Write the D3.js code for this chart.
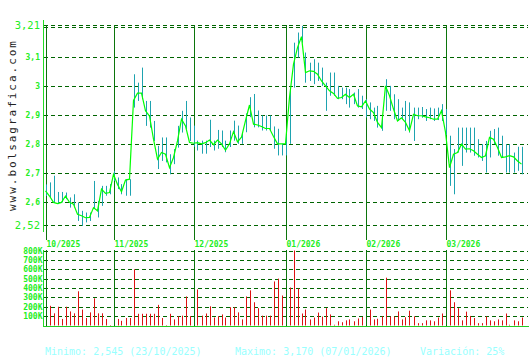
<!DOCTYPE html>
<html>
<head>
<meta charset="utf-8">
<script src="https://cdn.jsdelivr.net/npm/d3@7/dist/d3.min.js"></script>
<style>
  body { margin: 0; background: #fff; }
  svg { display: block; font-family: "DejaVu Sans Mono", monospace; }
</style>
</head>
<body>
<svg id="chart" width="530" height="360"></svg>
<script>
// month markers (index of first session shown in that month)
const monthLabels = ["10/2025", "11/2025", "12/2025", "01/2026", "02/2026", "03/2026"];
const monthStarts = [0, 17, 37, 60, 80, 100];

// daily close
const closes = [
  2.638, 2.62, 2.598, 2.594, 2.598, 2.62, 2.598, 2.592, 2.557, 2.552,
  2.545, 2.546, 2.58, 2.569, 2.644, 2.629, 2.632, 2.695, 2.66, 2.635,
  2.675, 2.678, 2.95, 2.975, 2.975, 2.914, 2.896, 2.816, 2.747, 2.77,
  2.764, 2.718, 2.753, 2.81, 2.885, 2.862, 2.805, 2.802, 2.804, 2.8,
  2.804, 2.813, 2.797, 2.813, 2.8, 2.778, 2.8, 2.842, 2.807, 2.823,
  2.88, 2.934, 2.868, 2.865, 2.86, 2.853, 2.853, 2.825, 2.8, 2.8,
  2.8, 2.96, 3.075, 3.132, 3.17, 3.046, 3.052, 3.05, 3.04, 3.017,
  3.0, 2.983, 2.974, 2.957, 2.96, 2.971, 2.96, 2.971, 2.931, 2.928,
  2.948, 2.92, 2.908, 2.874, 2.856, 3.0, 2.966, 2.92, 2.879, 2.89,
  2.874, 2.845, 2.902, 2.897, 2.897, 2.893, 2.89, 2.885, 2.885, 2.914,
  2.84, 2.718, 2.764, 2.77, 2.799, 2.782, 2.783, 2.776, 2.764, 2.753,
  2.759, 2.822, 2.816, 2.787, 2.753, 2.755, 2.759, 2.755, 2.741, 2.73
];

// daily high / low
const highs = [
  2.66, 2.667, 2.69, 2.634, 2.634, 2.632, 2.615, 2.626, 2.598, 2.569,
  2.563, 2.563, 2.672, 2.603, 2.655, 2.655, 2.661, 2.707, 2.684, 2.661,
  2.678, 2.678, 3.04, 3.011, 3.063, 2.948, 2.948, 2.879, 2.793, 2.822,
  2.822, 2.764, 2.782, 2.862, 2.914, 2.948, 2.891, 2.863, 2.811, 2.811,
  2.811, 2.883, 2.811, 2.848, 2.846, 2.811, 2.846, 2.88, 2.863, 2.834,
  2.905, 2.961, 2.972, 2.915, 2.898, 2.898, 2.898, 2.86, 2.852, 2.8,
  2.83, 2.99, 3.149, 3.184, 3.207, 3.115, 3.08, 3.092, 3.08, 3.063,
  3.011, 3.046, 3.046, 3.0, 2.994, 2.994, 2.989, 2.977, 2.989, 2.966,
  2.954, 2.943, 2.925, 2.931, 2.891, 3.023, 3.0, 2.971, 2.954, 2.925,
  2.948, 2.943, 2.925, 2.925, 2.927, 2.92, 2.925, 2.922, 2.925, 2.937,
  2.92, 2.828, 2.782, 2.856, 2.856, 2.856, 2.856, 2.856, 2.816, 2.799,
  2.81, 2.845, 2.851, 2.856, 2.828, 2.799, 2.799, 2.77, 2.79, 2.79
];
const lows = [
  2.62, 2.615, 2.598, 2.592, 2.598, 2.609, 2.58, 2.58, 2.534, 2.517,
  2.529, 2.534, 2.575, 2.546, 2.586, 2.621, 2.626, 2.672, 2.644, 2.626,
  2.621, 2.621, 2.925, 2.948, 2.954, 2.862, 2.856, 2.81, 2.713, 2.741,
  2.736, 2.695, 2.73, 2.787, 2.839, 2.851, 2.81, 2.79, 2.777, 2.766,
  2.766, 2.789, 2.777, 2.783, 2.789, 2.771, 2.789, 2.811, 2.8, 2.8,
  2.84, 2.892, 2.857, 2.857, 2.846, 2.846, 2.846, 2.783, 2.76, 2.76,
  2.76, 2.8, 2.994, 3.098, 3.149, 3.011, 3.017, 3.006, 3.017, 3.0,
  2.914, 2.966, 2.966, 2.954, 2.954, 2.937, 2.925, 2.937, 2.925, 2.92,
  2.891, 2.885, 2.879, 2.856, 2.845, 2.914, 2.914, 2.885, 2.879, 2.885,
  2.845, 2.839, 2.81, 2.885, 2.89, 2.879, 2.885, 2.879, 2.882, 2.879,
  2.83, 2.655, 2.626, 2.77, 2.724, 2.77, 2.77, 2.759, 2.753, 2.741,
  2.701, 2.753, 2.799, 2.759, 2.753, 2.701, 2.701, 2.701, 2.707, 2.695
];

// daily volume
const volumes = [
  115000, 210000, 130000, 200000, 70000, 200000, 150000, 130000, 365000, 170000,
  80000, 140000, 290000, 130000, 130000, 70000, 5000, 90000, 70000, 50000,
  80000, 80000, 600000, 125000, 125000, 125000, 125000, 125000, 220000, 80000,
  5000, 125000, 65000, 100000, 105000, 310000, 100000, 100000, 385000, 105000,
  128000, 205000, 85000, 100000, 118000, 85000, 195000, 195000, 140000, 65000,
  310000, 375000, 248000, 185000, 105000, 105000, 105000, 470000, 500000, 320000,
  320000, 405000, 800000, 395000, 128000, 170000, 65000, 85000, 138000, 95000,
  185000, 118000, 8000, 45000, 35000, 55000, 65000, 45000, 75000, 90000,
  100000, 170000, 65000, 72000, 98000, 510000, 96000, 96000, 150000, 65000,
  88000, 158000, 98000, 25000, 25000, 55000, 55000, 45000, 85000, 128000,
  110000, 375000, 248000, 185000, 55000, 148000, 102000, 80000, 25000, 25000,
  98000, 55000, 45000, 65000, 55000, 128000, 8000, 55000, 45000, 85000
];

// axis ticks
const priceTicks = [3.21, 3.1, 3.0, 2.9, 2.8, 2.7, 2.6, 2.52];
const priceTickLabels = ["3,21", "3,1", "3", "2,9", "2,8", "2,7", "2,6", "2,52"];
const volTicks = [800000, 700000, 600000, 500000, 400000, 300000, 200000, 100000];
const volTickLabels = ["800K", "700K", "600K", "500K", "400K", "300K", "200K", "100K"];

const footer = ["Minimo: 2,545 (23/10/2025)", "Maximo: 3,170 (07/01/2026)", "Variación: 25%"];

const svg = d3.select("#chart");
const crisp = v => Math.round(v) + 0.5;

const x = d3.scaleLinear().domain([0, closes.length - 1]).range([45.5, 45.5 + 4 * (closes.length - 1)]);
const yP = d3.scaleLinear().domain([2.52, 3.21]).range([225, 25]);
const yV = d3.scaleLinear().domain([0, 800000]).range([325.5, 250.5]);

const gridColor = "#006400";
const monthColor = "#0c750c";
const labelGreen = "#22ee22";
const right = 528;

// watermark
svg.append("text")
    .attr("transform", "translate(16,211) rotate(-90)")
    .attr("textLength", 170)
    .attr("lengthAdjust", "spacing")
    .attr("font-size", "11px")
    .attr("fill", "#222")
    .text("www.bolsagrafica.com");

// --- price panel ---
const gP = svg.append("g");

gP.selectAll("line.grid")
    .data(priceTicks)
    .enter().append("line")
    .attr("class", "grid")
    .attr("x1", 44).attr("x2", right)
    .attr("y1", d => crisp(yP(d))).attr("y2", d => crisp(yP(d)))
    .attr("stroke", gridColor)
    .attr("stroke-dasharray", "4,3");

// second dashed line just under the top border
gP.append("line")
    .attr("x1", 44).attr("x2", right)
    .attr("y1", crisp(yP(3.21)) + 2).attr("y2", crisp(yP(3.21)) + 2)
    .attr("stroke", gridColor)
    .attr("stroke-dasharray", "4,3");

gP.selectAll("text.ptick")
    .data(priceTicks)
    .enter().append("text")
    .attr("class", "ptick")
    .attr("x", 40)
    .attr("y", d => yP(d))
    .attr("dy", (d, i) => (i === 0 || i === priceTicks.length - 1) ? "0.36em" : "0.38em")
    .attr("text-anchor", "end")
    .attr("font-size", (d, i) => (i === 0 || i === priceTicks.length - 1) ? "10.5px" : "8px")
    .attr("font-weight", (d, i) => (i === 0 || i === priceTicks.length - 1) ? "normal" : "bold")
    .attr("fill", labelGreen)
    .text((d, i) => priceTickLabels[i]);

// month lines through price panel
gP.selectAll("line.month")
    .data(monthStarts)
    .enter().append("line")
    .attr("class", "month")
    .attr("x1", d => crisp(x(d))).attr("x2", d => crisp(x(d)))
    .attr("y1", 25).attr("y2", 240)
    .attr("stroke", monthColor);

gP.selectAll("text.month")
    .data(monthStarts)
    .enter().append("text")
    .attr("class", "month")
    .attr("x", d => x(d) + 1)
    .attr("y", 247)
    .attr("font-size", "8px")
    .attr("font-weight", "bold")
    .attr("fill", labelGreen)
    .text((d, i) => monthLabels[i]);

// high-low bars
gP.selectAll("line.hl")
    .data(closes)
    .enter().append("line")
    .attr("class", "hl")
    .attr("x1", (d, i) => crisp(x(i))).attr("x2", (d, i) => crisp(x(i)))
    .attr("y1", (d, i) => yP(highs[i])).attr("y2", (d, i) => yP(lows[i]))
    .attr("stroke", "#1ea3b0");

// close line
gP.append("path")
    .datum(closes)
    .attr("fill", "none")
    .attr("stroke", "#00ff00")
    .attr("stroke-width", 1.2)
    .attr("d", d3.line().x((d, i) => x(i)).y(d => yP(d)));

// price axis line
gP.append("line")
    .attr("x1", 43.5).attr("x2", 43.5)
    .attr("y1", 20).attr("y2", 232)
    .attr("stroke", "#22dd22");

// --- volume panel ---
const gV = svg.append("g");

gV.selectAll("line.grid")
    .data(volTicks)
    .enter().append("line")
    .attr("class", "grid")
    .attr("x1", 44).attr("x2", right)
    .attr("y1", d => crisp(yV(d))).attr("y2", d => crisp(yV(d)))
    .attr("stroke", gridColor)
    .attr("stroke-dasharray", "4,3");

gV.selectAll("text.vtick")
    .data(volTicks)
    .enter().append("text")
    .attr("class", "vtick")
    .attr("x", 42.5)
    .attr("y", d => yV(d))
    .attr("dy", "0.38em")
    .attr("text-anchor", "end")
    .attr("font-size", "8px")
    .attr("font-weight", "bold")
    .attr("fill", labelGreen)
    .text((d, i) => volTickLabels[i]);

gV.selectAll("line.vol")
    .data(volumes)
    .enter().append("line")
    .attr("class", "vol")
    .attr("x1", (d, i) => crisp(x(i))).attr("x2", (d, i) => crisp(x(i)))
    .attr("y1", yV(0)).attr("y2", d => yV(d))
    .attr("stroke", "#dd1111");

gV.selectAll("line.month")
    .data(monthStarts)
    .enter().append("line")
    .attr("class", "month")
    .attr("x1", d => crisp(x(d))).attr("x2", d => crisp(x(d)))
    .attr("y1", 250).attr("y2", 326)
    .attr("stroke", monthColor);

gV.append("line")
    .attr("x1", 43.5).attr("x2", 43.5)
    .attr("y1", 250).attr("y2", 326)
    .attr("stroke", "#22dd22");

gV.append("line")
    .attr("x1", 43).attr("x2", 529)
    .attr("y1", 326.5).attr("y2", 326.5)
    .attr("stroke", "#22cc22");

// footer stats
const footerX = [45, 235, 420];
svg.selectAll("text.footer")
    .data(footer)
    .enter().append("text")
    .attr("class", "footer")
    .attr("x", (d, i) => footerX[i])
    .attr("y", 355)
    .attr("font-size", "10px")
    .attr("fill", "#99ffff")
    .text(d => d);
</script>
</body>
</html>
